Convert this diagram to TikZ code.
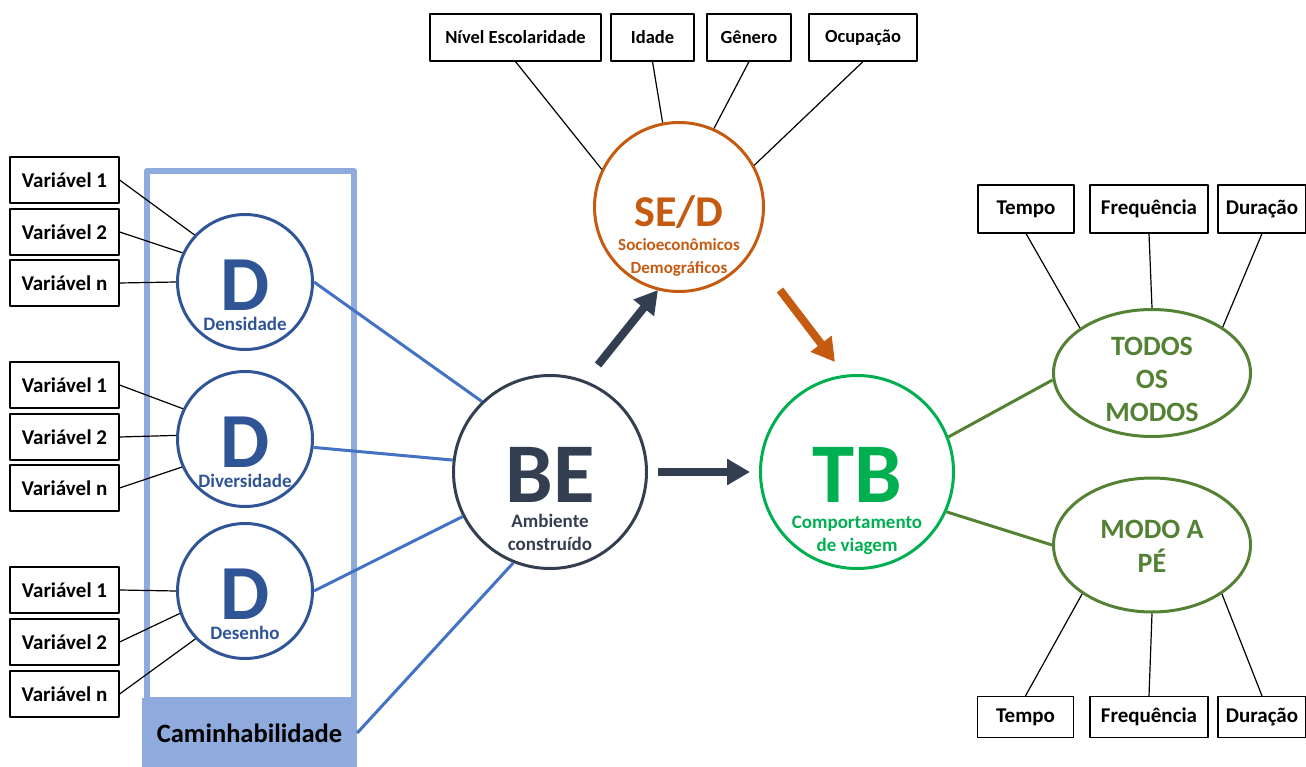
\documentclass[tikz,border=0pt]{standalone}
\usepackage{fontspec}
\setmainfont{Carlito}
\usetikzlibrary{arrows.meta, positioning, calc, shapes.geometric}
\definecolor{benavy}{HTML}{333F50}
\definecolor{tbgreen}{HTML}{00B050}
\definecolor{sedorange}{HTML}{C55A11}
\definecolor{modegreen}{HTML}{548235}
\definecolor{dblue}{HTML}{2F5597}
\definecolor{lineblue}{HTML}{4472C4}
\definecolor{frameblue}{HTML}{8FAADC}

\begin{document}
\begin{tikzpicture}[x=1pt, y=-1pt, line join=round,
    txt/.style={inner sep=0pt, anchor=base},
    bigletter/.style={txt, text height=0.64*#1 pt, text depth=0pt,
                      font=\fontsize{#1}{#1}\selectfont\bfseries},
    smalltxt/.style={txt, text height=0.64*#1 pt, text depth=0.18*#1 pt,
                     font=\fontsize{#1}{#1}\selectfont\bfseries},
    varbox/.style={draw, line width=1.2pt, minimum width=109pt, minimum height=46pt,
                   inner sep=0pt, font=\fontsize{21}{23}\selectfont\bfseries},
    topbox/.style={draw, line width=1.2pt, minimum height=47pt, inner sep=0pt,
                   font=\fontsize{18.5}{20}\selectfont\bfseries},
    modebox/.style={draw, line width=1.2pt, inner sep=0pt,
                    font=\fontsize{21}{23}\selectfont\bfseries},
    dcirc/.style={circle, draw=dblue, line width=3pt, minimum size=135pt, inner sep=0pt},
    bigcirc/.style={circle, line width=3pt, minimum size=193pt, inner sep=0pt},
    modell/.style={ellipse, draw=modegreen, line width=3pt, minimum width=197pt, inner sep=0pt},
    thinline/.style={line width=1.2pt},
    blueline/.style={draw=lineblue, line width=3pt},
    greenline/.style={draw=modegreen, line width=3pt},
    fatarrow/.style={line width=8pt, -{Triangle[length=23pt, width=25pt]}}]
    \useasboundingbox (0,0) rectangle (1306,767);

    % caminhabilidade frame
    \draw[frameblue, line width=6pt] (147,171) rectangle (354,700);
    \node[fill=frameblue, minimum width=215pt, minimum height=70pt, inner sep=0pt,
          font=\fontsize{26.5}{28}\selectfont\bfseries] (camin) at (249.5,733) {Caminhabilidade};

    % the three D
    \node[dcirc] (dens) at (245,282) {};
    \node[dcirc] (divs) at (245,439) {};
    \node[dcirc] (desn) at (245,591) {};
    \node[bigletter=78, dblue] (dens-d) at ($(dens)+(0,28)$) {D};
    \node[bigletter=78, dblue] (divs-d) at ($(divs)+(0,28)$) {D};
    \node[bigletter=78, dblue] (desn-d) at ($(desn)+(0,28)$) {D};
    \node[smalltxt=19, dblue] (dens-l) at ($(dens)+(0,48)$) {Densidade};
    \node[smalltxt=19, dblue] (divs-l) at ($(divs)+(0,48)$) {Diversidade};
    \node[smalltxt=19, dblue] (desn-l) at ($(desn)+(0,48)$) {Desenho};

    % variables
    \node[varbox] (v11) at (64.5,180) {Variável 1};
    \node[varbox] (v12) at (64.5,232) {Variável 2};
    \node[varbox] (v13) at (64.5,283) {Variável n};
    \node[varbox] (v21) at (64.5,385) {Variável 1};
    \node[varbox] (v22) at (64.5,437) {Variável 2};
    \node[varbox] (v23) at (64.5,488) {Variável n};
    \node[varbox] (v31) at (64.5,590) {Variável 1};
    \node[varbox] (v32) at (64.5,642) {Variável 2};
    \node[varbox] (v33) at (64.5,694) {Variável n};
    \draw[thinline] (v11.east) -- (dens.137);
    \draw[thinline] (v12.east) -- (dens.155);
    \draw[thinline] (v13.east) -- (dens.west);
    \draw[thinline] (v21.east) -- (divs.154);
    \draw[thinline] (v22.east) -- (divs.177);
    \draw[thinline] (v23.east) -- (divs.204);
    \draw[thinline] (v31.east) -- (desn.west);
    \draw[thinline] (v32.east) -- (desn.199);
    \draw[thinline] (v33.east) -- (desn.224);

    % BE, SE/D, TB
    \node[bigcirc, draw=benavy] (be) at (550,472) {};
    \node[bigcirc, draw=tbgreen] (tb) at (857,472) {};
    \node[circle, draw=sedorange, line width=3pt, minimum size=169pt, inner sep=0pt] (sed) at (679,207) {};
    \node[bigletter=85, benavy] (be-t) at ($(be)+(0,30)$) {BE};
    \node[smalltxt=19, benavy] (be-l1) at ($(be)+(0,55)$) {Ambiente};
    \node[smalltxt=19, benavy] (be-l2) at ($(be)+(0,78)$) {construído};
    \node[bigletter=85, tbgreen] (tb-t) at ($(tb)+(0,30)$) {TB};
    \node[smalltxt=19, tbgreen] (tb-l1) at ($(tb)+(0,56)$) {Comportamento};
    \node[smalltxt=19, tbgreen] (tb-l2) at ($(tb)+(0,79)$) {de viagem};
    \node[bigletter=44, sedorange] (sed-t) at ($(sed)+(0,20)$) {SE/D};
    \node[smalltxt=17, sedorange] (sed-l1) at ($(sed)+(0,44)$) {Socioeconômicos};
    \node[smalltxt=17, sedorange] (sed-l2) at ($(sed)+(0,66)$) {Demográficos};

    \draw[blueline] (dens.east) -- (be.134);
    \draw[blueline] (divs.-7) -- (be.173);
    \draw[blueline] (desn.east) -- (be.207);
    \draw[blueline] (camin.east) -- (be.248);

    % arrows
    \coordinate (a1s) at (598,365);
    \coordinate (a1e) at (658,290);
    \coordinate (a2s) at (780,290);
    \coordinate (a2e) at (835,362);
    \draw[fatarrow, benavy] (a1s) -- (a1e);
    \draw[fatarrow, sedorange] (a2s) -- (a2e);
    \draw[fatarrow, benavy, shorten <=10pt, shorten >=9pt] (be.east) -- (tb.west);

    % socioeconomic variables
    \node[topbox, minimum width=171pt] (nivel) at (515.5,37.5) {Nível Escolaridade};
    \node[topbox, minimum width=83pt] (idade) at (652.5,37.5) {Idade};
    \node[topbox, minimum width=84pt] (genero) at (749,37.5) {Gênero};
    \node[topbox, minimum width=108pt] (ocup) at (863,37.5) {Ocupação};
    \draw[thinline] (nivel.south) -- (sed.154);
    \draw[thinline] (idade.south) -- (sed.101);
    \draw[thinline] (genero.south) -- (sed.66);
    \draw[thinline] (ocup.south) -- (sed.29);

    % modes
    \node[modell, minimum height=127pt] (todos) at (1152,373) {};
    \node[modell, minimum height=134pt] (ape) at (1152,545) {};
    \node[smalltxt=28, modegreen] (todos-1) at ($(todos)+(0,-18)$) {TODOS};
    \node[smalltxt=28, modegreen] (todos-2) at ($(todos)+(0,15)$) {OS};
    \node[smalltxt=28, modegreen] (todos-3) at ($(todos)+(0,48)$) {MODOS};
    \node[smalltxt=28, modegreen] (ape-1) at ($(ape)+(0,-7)$) {MODO A};
    \node[smalltxt=28, modegreen] (ape-2) at ($(ape)+(0,27)$) {PÉ};
    \draw[greenline] (tb.21) -- (todos.184);
    \draw[greenline] (tb.-24) -- (ape.west);

    \node[modebox, minimum width=96pt, minimum height=48pt] (tempo1) at (1026,209) {Tempo};
    \node[modebox, minimum width=118pt, minimum height=48pt] (freq1) at (1149,209) {Frequência};
    \node[modebox, minimum width=88pt, minimum height=48pt] (dur1) at (1262,209) {Duração};
    \node[modebox, minimum width=96pt, minimum height=41pt] (tempo2) at (1025.5,717) {Tempo};
    \node[modebox, minimum width=118pt, minimum height=41pt] (freq2) at (1149,717) {Frequência};
    \node[modebox, minimum width=88pt, minimum height=41pt] (dur2) at (1262,717) {Duração};
    \draw[thinline] (tempo1.south) -- (todos.148);
    \draw[thinline] (freq1.south) -- (todos.north);
    \draw[thinline] (dur1.south) -- (todos.33);
    \draw[thinline] (tempo2.north) -- (ape.215);
    \draw[thinline] (freq2.north) -- (ape.south);
    \draw[thinline] (dur2.north) -- (ape.-35);
\end{tikzpicture}
\end{document}
